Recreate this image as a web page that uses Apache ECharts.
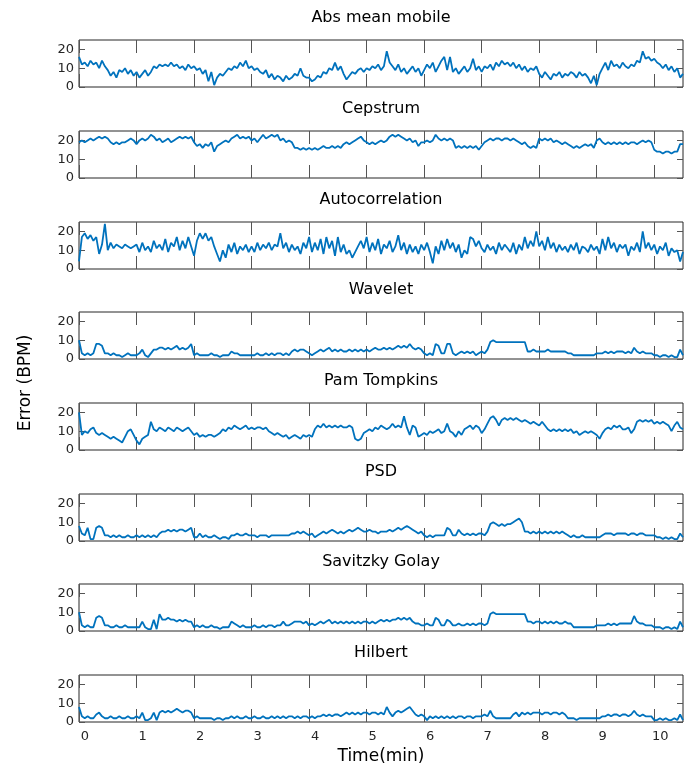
<!DOCTYPE html>
<html><head><meta charset="utf-8">
<script src="https://cdn.jsdelivr.net/npm/echarts@6/dist/echarts.min.js"></script>
<style>html,body{margin:0;padding:0;background:#fff}#c{width:685px;height:768px}</style>
</head><body><div id="c"></div>
<script>
const titles = ['Abs mean mobile','Cepstrum','Autocorrelation','Wavelet','Pam Tompkins','PSD','Savitzky Golay','Hilbert'];
const xTicks = [0,1,2,3,4,5,6,7,8,9,10];
const yTicks = [0,10,20];
const timeStep = 0.05; // minutes between samples

const absMeanMobile = [
16,12,13,11,14,12,13,10,14,11,
9,6,8,5,9,8,10,7,9,6,
8,5,7,9,6,8,11,10,12,11,
12,11,13,11,12,10,11,9,12,10,
11,9,10,7,9,3,8,1,5,7,
6,8,10,9,11,10,13,11,14,10,
11,9,10,8,7,9,5,7,4,6,
5,3,6,4,5,7,6,10,6,5,
5,3,4,6,5,8,7,10,9,13,
9,11,7,4,6,8,7,9,10,8,
10,9,11,10,12,9,11,19,13,11,
9,12,8,10,7,9,11,8,10,6,
9,12,10,13,8,11,14,16,9,16,
8,10,7,9,11,8,10,15,9,11,
8,11,10,12,9,13,11,14,12,13,
11,13,10,12,9,11,8,10,9,11,
7,5,8,6,4,7,6,8,5,7,
6,8,7,5,8,6,7,5,2,6,
1,7,10,13,9,14,11,12,10,13,
11,10,12,11,14,13,19,15,16,14,
15,13,12,10,12,9,11,8,10,5,7];

const cepstrum = [
19,20,19,20,21,20,21,22,21,22,
21,19,18,19,18,19,19,20,21,20,
18,20,21,20,21,23,22,20,21,19,
20,21,19,20,21,22,21,22,21,22,
19,17,18,16,18,17,19,14,17,18,
19,20,19,21,22,23,21,22,21,22,
20,21,19,21,23,21,22,23,22,23,
20,21,19,20,19,16,16,15,16,15,
16,15,16,15,16,17,16,16,17,16,
17,16,18,19,18,19,20,21,22,20,
19,18,19,18,19,20,19,20,22,23,
22,23,22,21,20,21,19,20,17,19,
19,20,19,20,23,21,20,21,20,21,
20,16,17,16,17,16,17,16,17,15,
17,19,20,21,20,21,21,20,21,21,
20,21,20,19,18,19,17,16,17,16,
21,20,21,20,21,19,20,19,18,19,
18,17,16,17,16,17,18,17,18,16,
20,21,19,18,19,18,19,18,19,18,
19,18,19,19,18,19,20,19,20,19,
15,14,14,13,14,14,13,14,14,18,18];

const autocorrelation = [
4,17,19,16,18,15,17,8,13,24,
10,14,11,13,12,11,13,12,11,12,
13,9,14,10,12,9,15,11,13,10,
16,9,14,12,17,10,15,11,17,12,
7,15,19,16,19,15,17,12,8,4,
10,6,13,9,14,8,12,10,13,9,
12,9,14,10,13,11,14,10,13,12,
19,11,14,9,13,10,12,8,14,11,
17,9,14,10,16,8,17,11,15,7,
17,9,13,8,10,6,9,12,15,11,
17,9,14,10,16,8,13,11,15,9,
12,18,10,14,8,13,9,12,8,13,
10,14,9,3,12,8,15,10,16,11,
14,9,13,6,10,8,17,16,12,15,
11,9,13,10,12,8,14,10,13,11,
9,14,8,13,10,17,11,15,12,20,
12,15,10,17,11,14,9,13,10,12,
9,13,10,14,8,12,11,9,13,10,
12,8,16,10,17,11,14,9,13,11,
13,7,12,10,14,9,20,11,14,10,
13,8,12,10,14,7,11,9,10,4,9];

const wavelet = [
10,3,2,3,2,3,8,8,7,3,
3,2,3,2,2,1,2,3,2,2,
2,3,5,2,1,3,5,5,6,6,
5,6,5,6,7,5,6,5,6,8,
2,3,2,2,2,2,3,2,2,1,
2,2,2,4,3,3,2,2,2,2,
2,2,3,2,2,3,2,3,2,3,
3,2,3,2,4,5,4,5,5,4,
3,2,3,4,5,4,5,6,4,5,
4,5,4,4,5,4,5,4,5,4,
5,4,5,6,5,5,6,5,6,5,
6,7,6,7,6,8,6,5,6,5,
3,2,3,2,8,7,3,3,8,8,
3,2,3,4,3,4,3,4,2,3,
4,3,5,9,10,9,9,9,9,9,
9,9,9,9,9,9,4,4,5,4,
4,4,4,5,4,4,4,4,4,4,
3,3,2,2,2,2,2,2,2,2,
3,3,3,4,3,4,3,4,4,4,
3,4,3,6,4,3,4,3,3,3,
2,2,1,2,2,1,2,1,1,5,2];

const pamTompkins = [
20,8,10,9,11,12,9,8,9,8,
7,6,7,6,5,4,7,10,11,8,
5,3,6,7,8,15,11,10,12,11,
10,12,11,10,12,11,10,11,12,10,
8,9,7,8,7,8,8,7,8,9,
11,10,12,11,13,12,11,12,13,11,
12,11,12,12,11,12,10,9,8,9,
8,7,8,6,7,8,7,6,8,7,
8,7,11,13,12,14,12,13,12,13,
12,13,12,12,13,12,6,5,6,9,
10,11,10,12,11,13,12,11,12,14,
12,13,12,18,12,8,13,12,7,8,
9,8,10,9,10,11,9,10,14,10,
9,7,10,8,11,12,13,11,13,12,
9,11,14,17,18,16,13,16,17,16,
17,16,17,16,15,16,15,14,15,14,
13,15,13,11,10,11,10,11,10,11,
10,11,9,10,8,9,10,9,10,9,
8,6,9,11,12,11,13,12,13,11,
11,12,9,11,15,16,15,16,15,16,
14,15,14,15,14,13,10,13,15,12,11];

const psd = [
8,4,3,7,1,1,7,8,7,3,
3,2,3,2,3,2,2,3,2,2,
3,2,3,2,3,2,3,2,4,5,
5,6,5,6,5,6,6,5,6,7,
2,2,4,2,3,2,2,3,2,1,
2,2,1,3,3,4,3,3,4,3,
3,3,2,3,3,3,2,3,3,3,
3,3,3,3,4,4,5,4,5,4,
3,4,2,3,4,5,4,5,6,5,
4,5,4,5,6,5,6,7,6,5,
5,6,5,5,4,5,5,5,6,5,
6,7,6,7,8,7,6,5,4,5,
3,2,3,2,3,3,3,3,7,6,
3,3,6,4,3,4,3,4,3,4,
4,3,5,9,10,9,8,9,8,9,
9,10,11,12,10,5,5,4,5,4,
5,4,5,4,5,4,5,4,5,4,
3,2,3,2,2,3,2,2,2,2,
2,2,3,4,4,4,3,4,4,4,
4,3,4,4,3,4,4,3,3,3,
3,2,2,1,2,1,2,1,1,4,2];

const savitzkyGolay = [
10,3,2,3,2,2,7,8,7,3,
3,2,2,3,2,2,3,2,2,2,
2,2,5,2,1,1,6,1,9,6,
6,7,6,6,5,6,5,6,5,5,
2,3,2,3,2,2,3,2,2,1,
2,2,2,5,4,3,2,3,2,2,
2,3,2,2,3,2,3,3,2,3,
3,5,3,3,4,5,5,5,4,5,
3,4,3,4,5,4,5,6,4,5,
4,5,4,5,4,5,4,5,4,5,
5,4,5,4,5,6,5,6,5,6,
6,7,6,7,6,7,5,4,4,3,
3,4,3,3,7,6,3,3,6,5,
3,3,4,3,3,4,3,4,3,4,
4,3,4,9,10,9,9,9,9,9,
9,9,9,9,9,9,5,5,4,5,
5,4,5,4,5,4,5,4,4,5,
4,4,2,2,2,2,2,2,2,2,
3,3,3,3,4,3,4,3,4,4,
4,4,4,8,5,4,4,3,3,3,
2,2,2,1,2,2,1,2,1,5,2];

const hilbert = [
8,3,2,3,2,2,4,5,3,2,
2,3,2,2,3,2,2,3,2,2,
3,2,5,1,1,2,5,1,5,6,
5,6,5,6,7,6,5,6,6,5,
2,3,2,2,2,2,2,1,2,2,
1,2,2,3,2,3,2,2,3,2,
2,3,2,2,3,2,2,3,2,3,
2,3,2,3,3,2,3,2,3,3,
2,3,2,3,3,4,3,4,3,4,
4,3,4,5,4,5,4,5,4,5,
5,4,5,5,4,5,4,8,5,3,
5,6,5,6,7,8,6,4,3,4,
3,1,3,2,3,2,3,2,3,2,
3,2,3,3,2,3,3,2,3,3,
3,4,3,6,3,2,2,2,2,2,
2,4,5,3,5,4,5,4,5,5,
5,4,5,5,4,5,5,4,5,4,
2,2,2,1,2,2,2,2,2,2,
2,2,3,3,4,3,4,4,3,4,
4,3,4,6,4,3,4,3,3,3,
1,1,2,1,2,1,1,2,1,4,1];

const seriesValues = [absMeanMobile, cepstrum, autocorrelation, wavelet, pamTompkins, psd, savitzkyGolay, hilbert];

const FONT = 'DejaVu Sans';
const tops = [40,131,222,312,403,494,584,675];
const plotLeft = 79, plotWidth = 604, plotHeight = 47;
const grids = [], xAxes = [], yAxes = [], series = [], graphics = [];
const tickColor = '#555';
const labelColor = '#262626';

tops.forEach((top, i) => {
  grids.push({left: plotLeft, width: plotWidth, top: top, height: plotHeight,
    show: true, borderColor: '#262626', borderWidth: 1, backgroundColor: 'transparent', containLabel: false});
  const isLast = i === tops.length - 1;
  const xCommon = {type: 'value', gridIndex: i, min: 0, max: 10.5,
    axisLine: {show: false, onZero: false}, splitLine: {show: false}};
  xAxes.push(Object.assign({}, xCommon, {position: 'bottom',
    axisTick: {show: true, inside: true, length: 13, lineStyle: {color: tickColor, width: 1}, customValues: xTicks},
    axisLabel: {show: isLast, customValues: xTicks, margin: 8, fontFamily: FONT, fontSize: 13, color: labelColor, padding: [0,0,0,12]}}));
  xAxes.push(Object.assign({}, xCommon, {position: 'top',
    axisTick: {show: true, inside: true, length: 13, lineStyle: {color: tickColor, width: 1}, customValues: xTicks},
    axisLabel: {show: false}}));
  const yCommon = {type: 'value', gridIndex: i, min: 0, max: 25,
    axisLine: {show: false, onZero: false}, splitLine: {show: false}};
  yAxes.push(Object.assign({}, yCommon, {position: 'left',
    axisTick: {show: true, inside: true, length: 6, lineStyle: {color: tickColor, width: 1}, customValues: yTicks},
    axisLabel: {show: true, customValues: yTicks, margin: 5, fontFamily: FONT, fontSize: 13, color: labelColor}}));
  yAxes.push(Object.assign({}, yCommon, {position: 'right',
    axisTick: {show: true, inside: true, length: 6, lineStyle: {color: tickColor, width: 1}, customValues: yTicks},
    axisLabel: {show: false}}));
  series.push({type: 'line', name: titles[i], xAxisIndex: 2*i, yAxisIndex: 2*i,
    data: seriesValues[i].map((v, k) => [k * timeStep, v]),
    showSymbol: false, symbol: 'none', clip: true,
    lineStyle: {color: '#0072BD', width: 1.8}, itemStyle: {color: '#0072BD'}});
  graphics.push({type: 'text', x: plotLeft + plotWidth/2, y: top - 22,
    style: {text: titles[i], fontFamily: FONT, fontSize: 16, fill: '#000',
      textAlign: 'center', textVerticalAlign: 'middle', align: 'center', verticalAlign: 'middle'}});
});

graphics.push({type: 'text', x: plotLeft + plotWidth/2, y: 757,
  style: {text: 'Time(min)', fontFamily: FONT, fontSize: 17, fill: '#000',
    textAlign: 'center', textVerticalAlign: 'middle', align: 'center', verticalAlign: 'middle'}});
graphics.push({type: 'text', x: 26, y: 383, rotation: Math.PI/2,
  style: {text: 'Error (BPM)', fontFamily: FONT, fontSize: 17, fill: '#000',
    textAlign: 'center', textVerticalAlign: 'middle', align: 'center', verticalAlign: 'middle'}});

const chart = echarts.init(document.getElementById('c'), null, {renderer: 'canvas'});
chart.setOption({
  animation: false,
  backgroundColor: '#fff',
  grid: grids, xAxis: xAxes, yAxis: yAxes, series: series, graphic: graphics
});
</script></body></html>
